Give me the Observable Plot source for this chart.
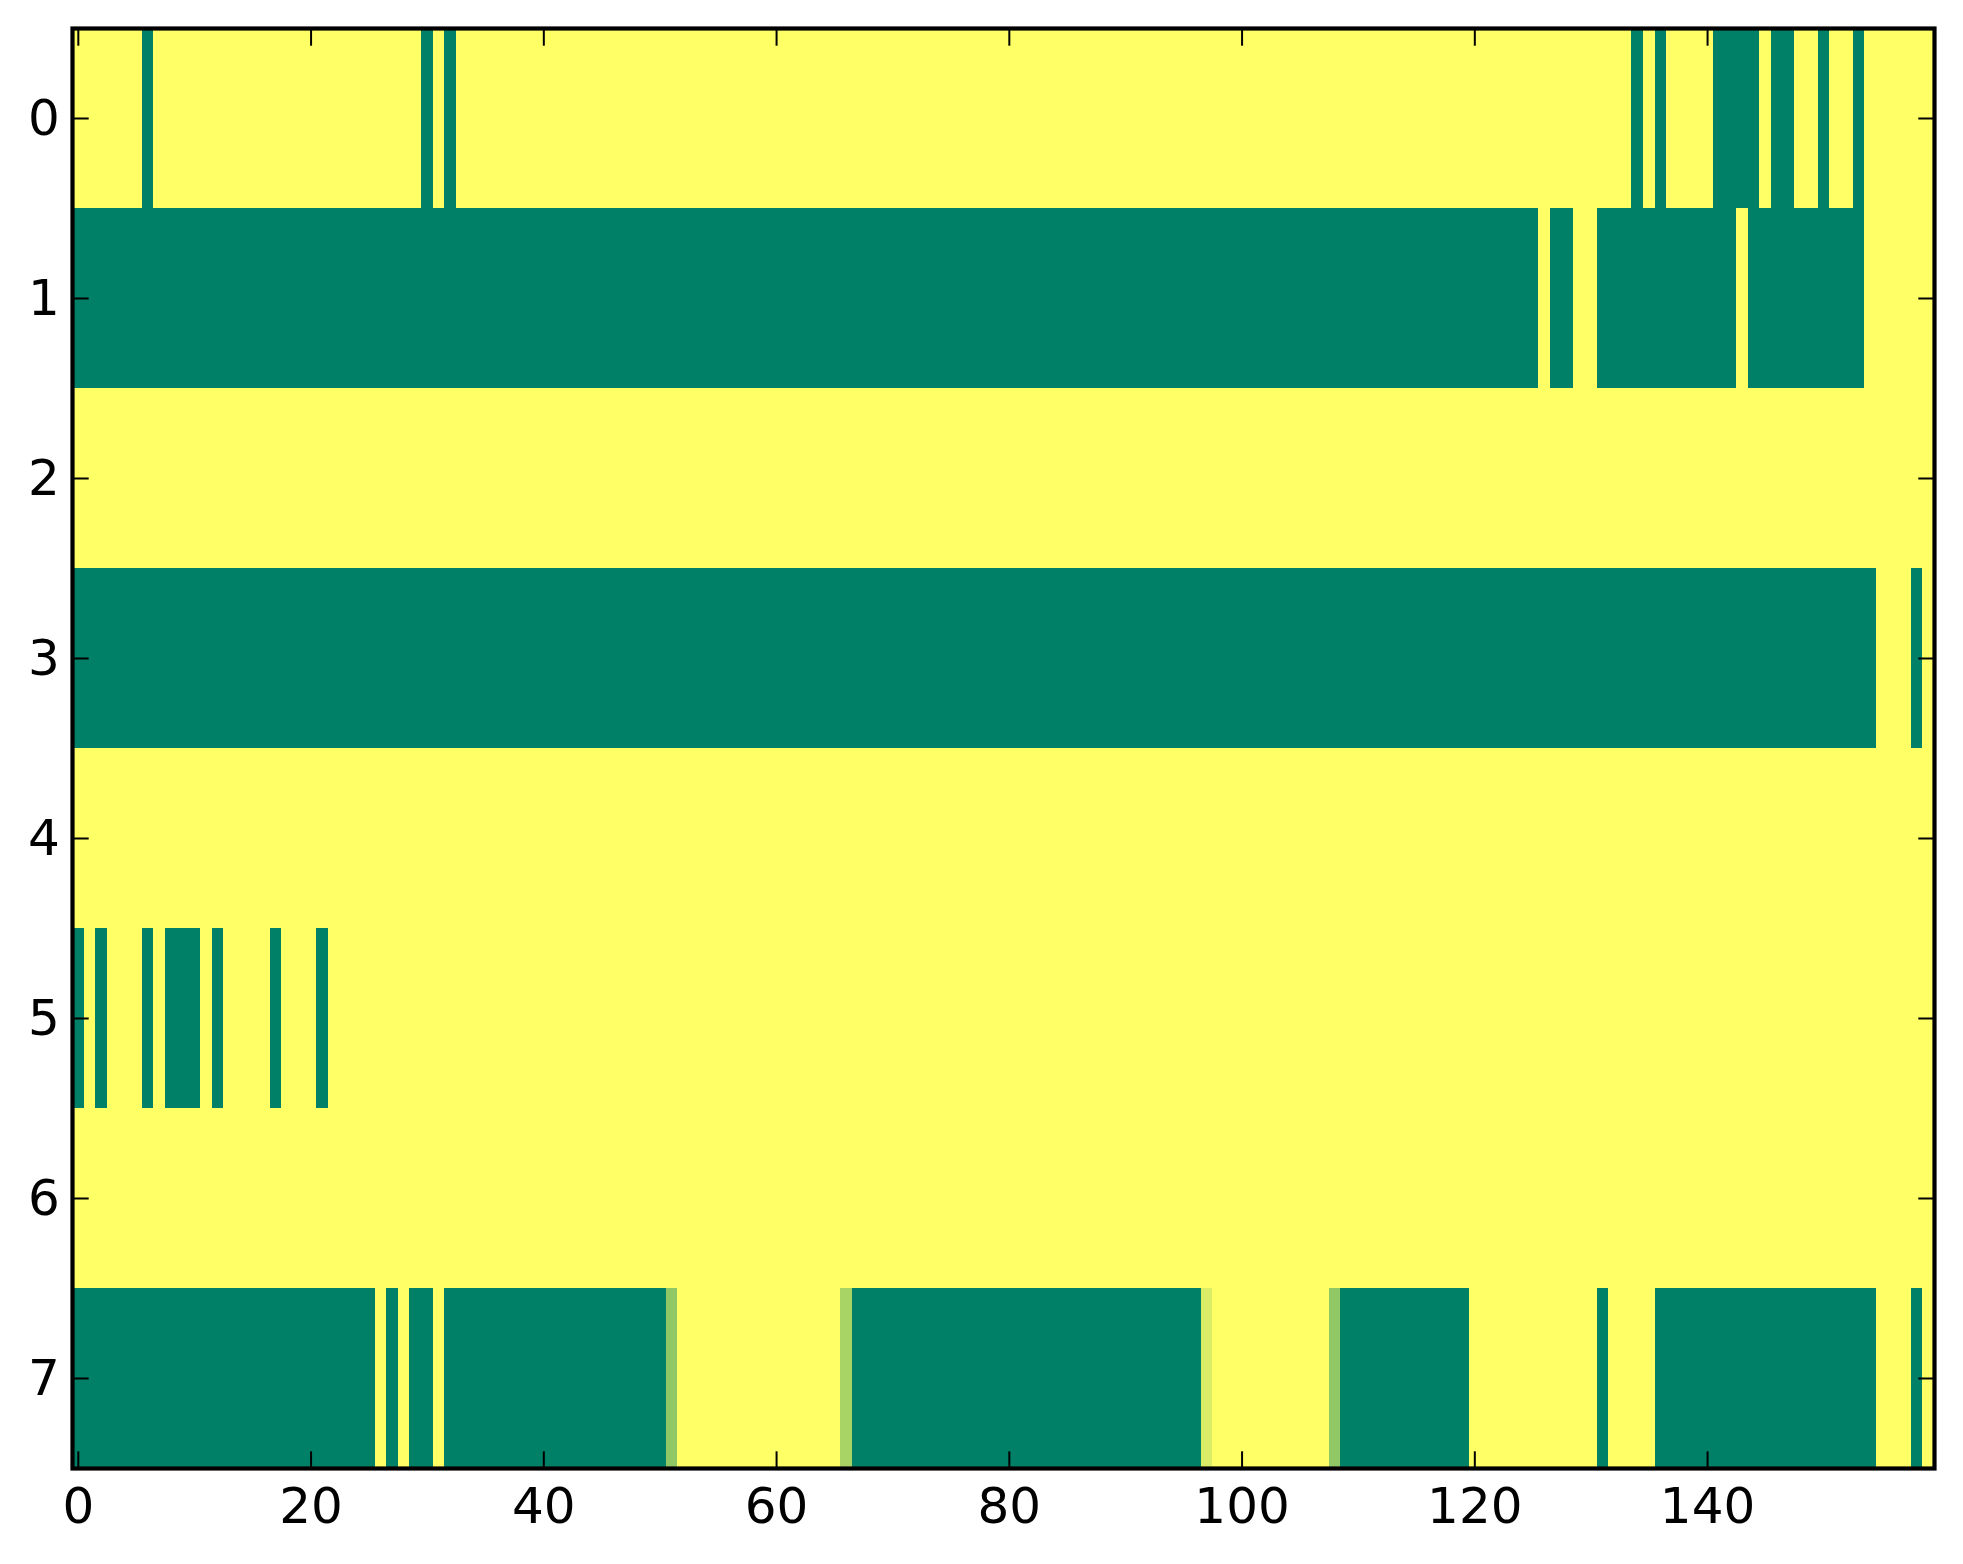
<!DOCTYPE html>
<html>
<head>
<meta charset="utf-8">
<script src="https://cdn.jsdelivr.net/npm/d3@7"></script>
<script src="https://cdn.jsdelivr.net/npm/@observablehq/plot@0.6"></script>
<style>
  html, body { margin: 0; padding: 0; background: #ffffff; }
  #chart { width: 1963px; height: 1564px; }
</style>
</head>
<body>
<div id="chart"></div>
<script>
// Grid size
const nCols = 160;
const rowIds = [0, 1, 2, 3, 4, 5, 6, 7];
const backgroundValue = 1; // yellow end of the colormap

// Per-row runs [firstColumn, lastColumn, value] that differ from the background
const row0 = [[6,6,0],[30,30,0],[32,32,0],[134,134,0],[136,136,0],[141,144,0],[146,147,0],[150,150,0],[153,153,0]];
const row1 = [[0,125,0],[127,128,0],[131,142,0],[144,153,0]];
const row2 = [];
const row3 = [[0,154,0],[158,158,0]];
const row4 = [];
const row5 = [[0,0,0],[2,2,0],[6,6,0],[8,10,0],[12,12,0],[17,17,0],[21,21,0]];
const row6 = [];
const row7 = [[0,25,0],[27,27,0],[29,30,0],[32,50,0],[51,51,0.57],[66,66,0.66],[67,96,0],[97,97,0.86],[108,108,0.57],[109,119,0],[131,131,0],[136,154,0],[158,158,0]];
const rowRuns = [row0, row1, row2, row3, row4, row5, row6, row7];

// Tick labels
const xTicks = [0, 20, 40, 60, 80, 100, 120, 140];
const yTicks = [0, 1, 2, 3, 4, 5, 6, 7];

// Build cell table
const cells = [];
rowIds.forEach((r, ri) => {
  for (let c = 0; c < nCols; c++) {
    let v = backgroundValue;
    for (const [a, b, val] of rowRuns[ri]) if (c >= a && c <= b) v = val;
    cells.push({row: r, col: c, value: v});
  }
});

// matplotlib "summer" colormap
const summer = t => `rgb(${Math.round(255 * t)}, ${Math.round(255 * (0.5 + 0.5 * t))}, 102)`;

const tick = 16.7;
const fmtInt = d3.format("d");
const chart = Plot.plot({
  width: 1963,
  height: 1564,
  marginLeft: 72,
  marginRight: 29,
  marginTop: 28,
  marginBottom: 96,
  style: {fontFamily: "DejaVu Sans, sans-serif", fontSize: "50px", background: "#ffffff", color: "#000"},
  x: {type: "linear", domain: [-0.5, nCols - 0.5], label: null},
  y: {type: "linear", domain: [-0.5, rowIds.length - 0.5], reverse: true, label: null},
  color: {type: "linear", domain: [0, 1], interpolate: summer},
  marks: [
    Plot.rect(cells, {
      x1: d => d.col - 0.5, x2: d => d.col + 0.5,
      y1: d => d.row - 0.5, y2: d => d.row + 0.5,
      fill: "value", shapeRendering: "crispEdges"
    }),
    Plot.axisX(xTicks, {anchor: "bottom", tickSize: -tick, tickPadding: 2 * tick + 2, strokeWidth: 2, fontSize: 50, tickFormat: fmtInt, label: null}),
    Plot.axisX(xTicks, {anchor: "top", tickSize: -tick, strokeWidth: 2, tickFormat: () => "", label: null}),
    Plot.axisY(yTicks, {anchor: "left", tickSize: -tick, tickPadding: 2 * tick - 4, strokeWidth: 2, fontSize: 50, tickFormat: fmtInt, label: null}),
    Plot.axisY(yTicks, {anchor: "right", tickSize: -tick, strokeWidth: 2, tickFormat: () => "", label: null}),
    Plot.frame({stroke: "#000", strokeWidth: 4.2})
  ]
});
document.getElementById("chart").appendChild(chart);
</script>
</body>
</html>
